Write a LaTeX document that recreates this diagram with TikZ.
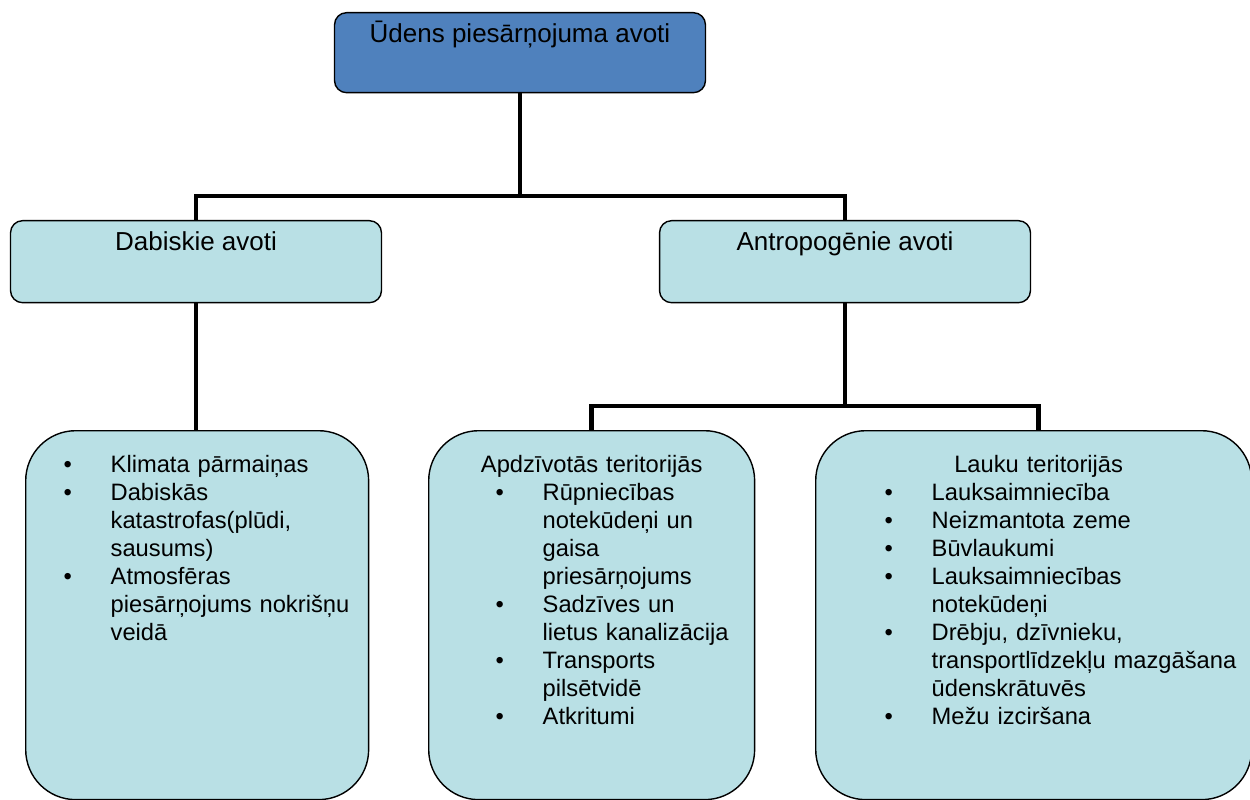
\documentclass[tikz,border=0pt]{standalone}
\usepackage{fontspec}
\setmainfont{Liberation Sans}
\usetikzlibrary{positioning}
\definecolor{rootblue}{RGB}{79,129,189}
\definecolor{leafcyan}{RGB}{185,224,229}
\newlength{\bulx}
\newlength{\txtx}
\newcommand{\bitem}[1]{\hspace*{\bulx}\makebox[\dimexpr\txtx-\bulx\relax][l]{\textbullet}#1}
\newcommand{\bcont}[1]{\hspace*{\txtx}#1}

\begin{document}
\begin{tikzpicture}[x=0.02cm,y=-0.02cm,
    rootbox/.style={draw=black, line width=0.8pt, fill=rootblue, rounded corners=0.24cm,
      minimum width=7.42cm, inner sep=0pt, text height=0.6cm, text depth=1.0cm,
      anchor=north, font=\fontsize{14.8}{17}\selectfont},
    groupbox/.style={rootbox, fill=leafcyan, text depth=1.04cm},
    listbox/.style={draw=black, line width=0.8pt, fill=leafcyan, rounded corners=1cm,
      inner sep=0pt, anchor=north west, align=left, text height=0.84cm, text depth=6.54cm,
      font=\fontsize{13.5}{15.9}\selectfont},
    link/.style={line width=2.8pt, black}]
    \useasboundingbox (0,0) rectangle (1250,800);
    % top levels
    \node[rootbox] (root) at (520,12) {Ūdens piesārņojuma avoti};
    \node[groupbox] (nat) at (196,220) {Dabiskie avoti};
    \node[groupbox] (ant) at (845,220) {Antropogēnie avoti};
    % lists
    \node[listbox, text width=6.86cm] (natlist) at (25,430) {%
      \setlength{\bulx}{0.76cm}\setlength{\txtx}{1.7cm}%
      \bitem{Klimata pārmaiņas}\\
      \bitem{Dabiskās}\\
      \bcont{katastrofas(plūdi,}\\
      \bcont{sausums)}\\
      \bitem{Atmosfēras}\\
      \bcont{piesārņojums nokrišņu}\\
      \bcont{veidā}};
    \node[listbox, text width=6.52cm] (urb) at (428,430) {%
      \setlength{\bulx}{1.34cm}\setlength{\txtx}{2.28cm}%
      \makebox[\linewidth]{Apdzīvotās teritorijās}\\
      \bitem{Rūpniecības}\\
      \bcont{notekūdeņi un}\\
      \bcont{gaisa}\\
      \bcont{priesārņojums}\\
      \bitem{Sadzīves un}\\
      \bcont{lietus kanalizācija}\\
      \bitem{Transports}\\
      \bcont{pilsētvidē}\\
      \bitem{Atkritumi}};
    \node[listbox, text width=8.72cm] (rur) at (815,430) {%
      \setlength{\bulx}{1.38cm}\setlength{\txtx}{2.32cm}%
      \makebox[\linewidth]{\hspace*{0.2cm}Lauku teritorijās}\\
      \bitem{Lauksaimniecība}\\
      \bitem{Neizmantota zeme}\\
      \bitem{Būvlaukumi}\\
      \bitem{Lauksaimniecības}\\
      \bcont{notekūdeņi}\\
      \bitem{Drēbju, dzīvnieku,}\\
      \bcont{transportlīdzekļu mazgāšana}\\
      \bcont{ūdenskrātuvēs}\\
      \bitem{Mežu izciršana}};
    % connectors
    \coordinate (busA) at (520,196);
    \coordinate (busB) at (845,406);
    \draw[link] (root) -- (busA);
    \draw[link] (busA) -| (nat);
    \draw[link] (busA) -| (ant);
    \draw[link] (nat.south) -- (nat.south |- natlist.north);
    \draw[link] (ant) -- (busB);
    \draw[link] (busB) -| (urb);
    \draw[link] (busB) -| ([xshift=0.1cm]rur.north);
\end{tikzpicture}
\end{document}
